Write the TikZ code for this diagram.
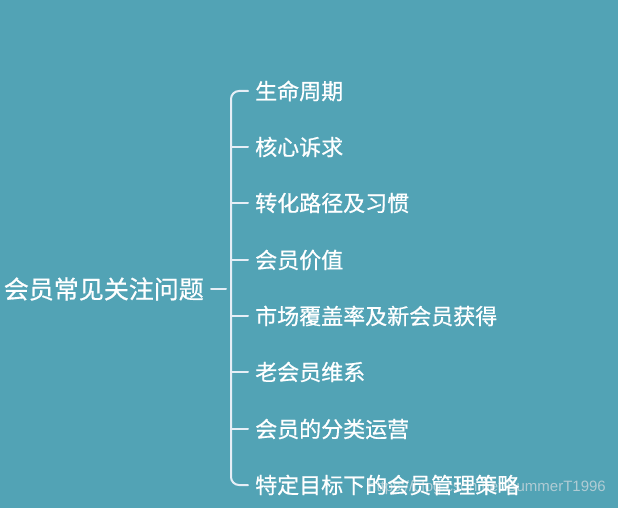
\documentclass[tikz,border=0pt]{standalone}
\usepackage{fontspec}
\setmainfont{Noto Sans CJK SC}[FakeBold=0.7]
\newfontfamily\wmfont{Liberation Sans}
\definecolor{bgc}{HTML}{52A3B5}
\definecolor{linec}{HTML}{E6EEF6}
\definecolor{wmc}{HTML}{C8D6DC}
\begin{document}
\begin{tikzpicture}[x=1pt,y=-1pt,
  child/.style={anchor=west,inner sep=0pt,text=white,font=\fontsize{22}{24}\selectfont},
  rootn/.style={anchor=east,inner sep=0pt,text=white,font=\fontsize{25}{27}\selectfont},
  conn/.style={draw=linec,line width=2pt,line cap=round}]
\fill[bgc] (0,0) rectangle (618,508);
\useasboundingbox (0,0) rectangle (618,508);
\node[anchor=east,inner sep=0pt,text=wmc,opacity=0.8,font=\wmfont\fontsize{15}{17}\selectfont] (wm) at (606,488) {https://blog.csdn.net/SummerT1996};
\node[rootn] (root) at (204,289) {会员常见关注问题};
\node[child] (c1) at (255,91) {生命周期};
\node[child] (c2) at (255,147) {核心诉求};
\node[child] (c3) at (255,203) {转化路径及习惯};
\node[child] (c4) at (255,260) {会员价值};
\node[child] (c5) at (255,316) {市场覆盖率及新会员获得};
\node[child] (c6) at (255,372) {老会员维系};
\node[child] (c7) at (255,429) {会员的分类运营};
\node[child] (c8) at (255,485) {特定目标下的会员管理策略};
\coordinate (s) at (211,289);
\coordinate (j) at (226,289);
\draw[conn] (s) -- (j);
\draw[conn,rounded corners=8pt] ([xshift=-7pt]c1.west) -| (231,289) |- ([xshift=-7pt]c8.west);
\foreach \c in {c2,c3,c4,c5,c6,c7}{
  \draw[conn] (231,0 |- \c.west) -- ([xshift=-7pt]\c.west);
}
\end{tikzpicture}
\end{document}
